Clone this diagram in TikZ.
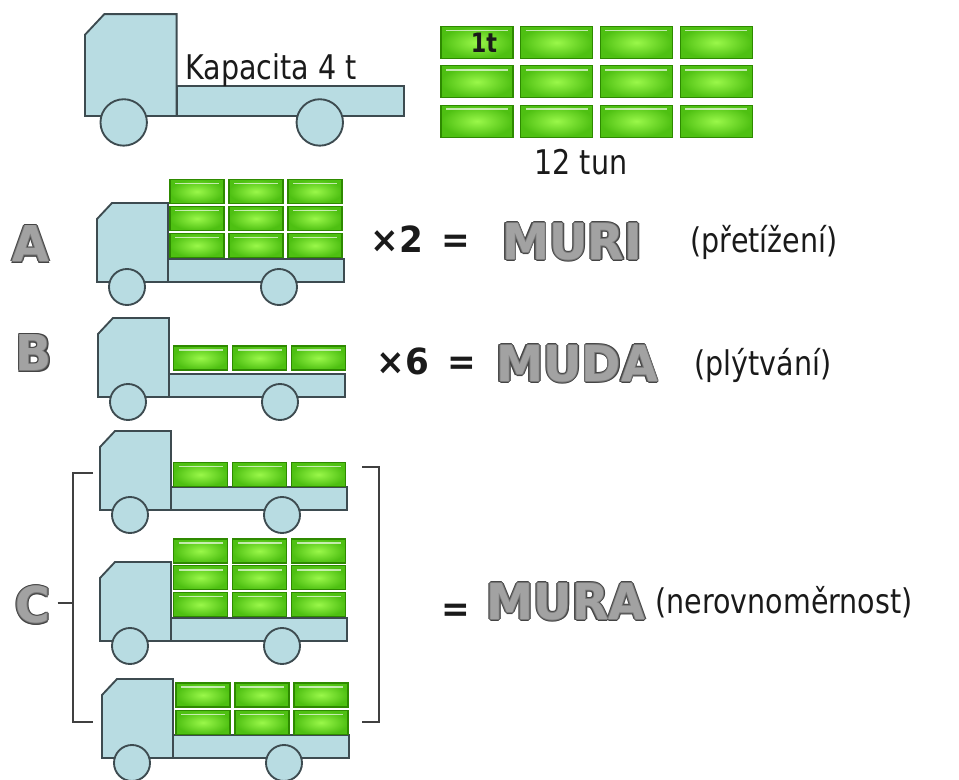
\documentclass[tikz,border=0pt]{standalone}
\usepackage{fontspec}
\usetikzlibrary{calc}
\newfontfamily\txtfont{DejaVu Sans}[FakeStretch=0.84]
\newfontfamily\numfont{DejaVu Sans}[FakeStretch=0.95]
\newfontfamily\embfont{DejaVu Sans}[FakeStretch=0.96]

\definecolor{truckfill}{HTML}{B8DCE2}
\definecolor{truckline}{HTML}{3D4B50}
\definecolor{crateedge}{HTML}{2E8A00}
\definecolor{crateinner}{HTML}{9AF84A}
\definecolor{crateouter}{HTML}{4EC012}
\definecolor{embdark}{HTML}{444444}
\definecolor{embmid}{HTML}{777777}
\definecolor{emblight}{HTML}{A2A2A2}
\definecolor{ink}{HTML}{1A1A1A}

\tikzset{
  body/.style={draw=truckline, fill=truckfill, line width=1.4pt},
  crate/.style={rectangle, draw=crateedge, line width=0.8pt,
    inner color=crateinner, outer color=crateouter, inner sep=0pt,
    path picture={\draw[white, opacity=0.65, line width=1.3pt]
      ($(path picture bounding box.north west)+(5,4)$) --
      ($(path picture bounding box.north east)+(-5,4)$);}},
  smallcrate/.style={crate, minimum width=40.5pt, minimum height=18pt},
  bigcrate/.style={crate, minimum width=54pt, minimum height=24pt},
  label/.style={inner sep=0pt, text=ink, font=\txtfont\fontsize{25.5}{29}\selectfont},
  factor/.style={inner sep=0pt, text=ink, font=\numfont\bfseries\fontsize{27}{30}\selectfont},
  emb/.style={inner sep=0pt, font=\embfont\bfseries\fontsize{37}{40}\selectfont},
  bracket/.style={draw=black!75, line width=1.3pt},
  truckpic/.pic={
    \draw[body] (0,0) -- (0,-63) -- (15,-79) -- (71,-79) -- (71,0) -- cycle;
    \draw[body] (71,0) rectangle (247,-23);
    \draw[body] (30,5) circle[radius=18];
    \draw[body] (182,5) circle[radius=18];
  }
}

% grey bevelled lettering: dark rim, mid rim, light face
\newcommand\embword[3]{%
  \foreach \a in {0,45,...,315}{\node[emb, text=embdark] at ($(#2)+(\a:1.8)$) {#3};}
  \foreach \a in {0,90,180,270}{\node[emb, text=embmid] at ($(#2)+(\a:0.9)$) {#3};}
  \node[emb, text=emblight] (#1) at (#2) {#3};
}

\begin{document}
\begin{tikzpicture}[x=0.75pt, y=-0.75pt]
  \fill[white] (0,0) rectangle (959,780);
  \useasboundingbox (0,0) rectangle (959,780);

  % empty truck with its capacity
  \pic[scale=1.29] (t0) at (85,116) {truckpic};
  \node[label, anchor=base west] (cap) at (185,80) {Kapacita 4 t};

  % twelve tonnes of load
  \foreach \c in {0,1,2,3}
    \foreach \r in {0,1,2}
      \node[bigcrate] (g\r\c) at (477+79.7*\c, 42.5+39.3*\r) {};
  \node[inner sep=0pt, text=ink, font=\txtfont\bfseries\fontsize{20}{24}\selectfont] (one) at (484,43) {1t};
  \node[label, anchor=base] (total) at (581,175) {12 tun};

  % A: overloaded
  \embword{la}{31,244}{A}
  \pic (ta) at (97,282) {truckpic};
  \foreach \c in {0,1,2}
    \foreach \r in {0,1,2}
      \node[smallcrate] (a\r\c) at (197+59*\c, 191.5+27*\r) {};
  \node[factor, anchor=base] (xa) at (397,253) {×2};
  \node[factor, anchor=base] (ea) at (456,253) {=};
  \embword{muri}{572,242}{MURI}
  \node[label, anchor=base] (pa) at (764,253) {(přetížení)};

  % B: underloaded
  \embword{lb}{34,353}{B}
  \pic (tb) at (98,397) {truckpic};
  \foreach \c in {0,1,2}
    \node[smallcrate] (b\c) at (200.5+59*\c, 358) {};
  \node[factor, anchor=base] (xb) at (403,374) {×6};
  \node[factor, anchor=base] (eb) at (462,374) {=};
  \embword{muda}{577,364}{MUDA}
  \node[label, anchor=base] (pb) at (763,375) {(plýtvání)};

  % C: uneven loading
  \embword{lc}{33,605}{C}
  \pic (tc1) at (100,510) {truckpic};
  \foreach \c in {0,1,2}
    \node[smallcrate] (c1\c) at (200.5+59*\c, 474.5) {};
  \pic (tc2) at (100,641) {truckpic};
  \foreach \c in {0,1,2}
    \foreach \r in {0,1,2}
      \node[smallcrate] (c2\r\c) at (200.5+59*\c, 551+26.8*\r) {};
  \pic (tc3) at (102,758) {truckpic};
  \foreach \c in {0,1,2}
    \foreach \r in {0,1}
      \node[smallcrate] (c3\r\c) at (203+59*\c, 695+27.5*\r) {};

  % brackets grouping the three trucks
  \coordinate (blt) at (73,473);
  \coordinate (blb) at (73,722);
  \coordinate (brt) at (379,467);
  \coordinate (brb) at (379,722);
  \draw[bracket] ($(blt)+(20,0)$) -- (blt) -- (blb) -- ($(blb)+(20,0)$);
  \draw[bracket] ($(brt)+(-17,0)$) -- (brt) -- (brb) -- ($(brb)+(-17,0)$);
  \draw[bracket] ($(lc.east)+(7,-2)$) -- (blt |- {$(lc.east)+(0,-2)$});

  \node[factor, anchor=base] (ec) at (456,621) {=};
  \embword{mura}{566,602}{MURA}
  \node[label, anchor=base] (pc) at (784,613) {(nerovnoměrnost)};
\end{tikzpicture}
\end{document}
